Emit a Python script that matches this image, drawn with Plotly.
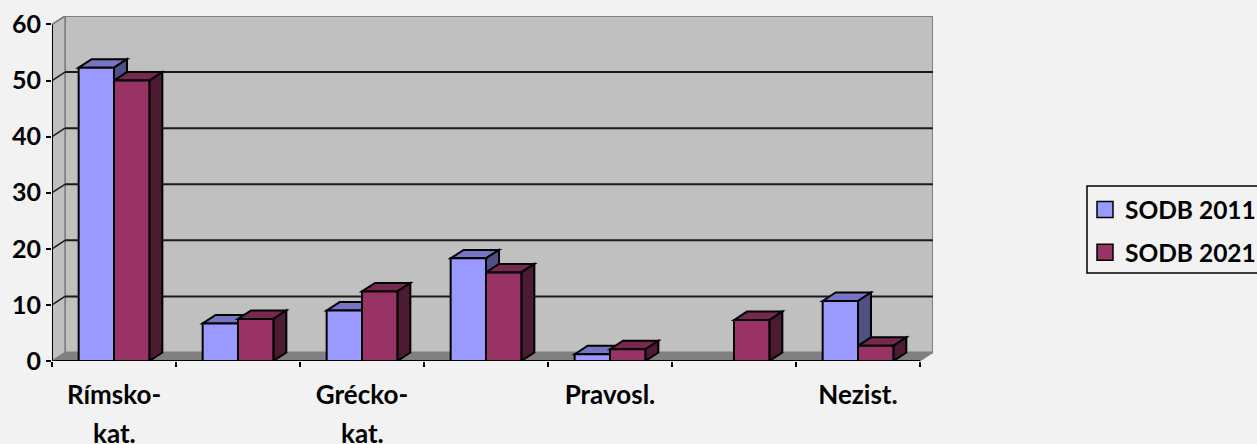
import plotly.graph_objects as go

categories = ["Rímsko-", "", "Grécko-", "", "Pravosl.", "", "Nezist."]
second_line = ["kat.", "", "kat.", "", "", "", ""]
sodb_2011 = [52.3, 6.7, 9.0, 18.3, 1.2, None, 10.7]
sodb_2021 = [50.0, 7.5, 12.4, 15.8, 2.1, 7.3, 2.7]
y_ticks = [0, 10, 20, 30, 40, 50, 60]

FONT = "Lato, Carlito, sans-serif"
W, H = 1257, 444
L, R, T, B = 52, 933, 16, 361
N = len(categories)
PX_X = (920 - 52) / N
PX_Y = (361 - 24) / 60
DX = 13 / PX_X
DY = 8.5 / PX_Y
GAP = 0.43
BW = (1 - GAP) / 2
XMAX = N + DX
YMAX = 60 + DY

INK = "#000000"
BLUE, BLUE_TOP, BLUE_SIDE = "#9999FF", "#7575C4", "#505084"
RED, RED_TOP, RED_SIDE = "#993366", "#77284F", "#4D1A33"


def poly(points):
    return "M" + " L".join(f"{x},{y}" for x, y in points) + " Z"


def shape(points, fill, color, width):
    return dict(type="path", path=poly(points), xref="x", yref="y", layer="below",
                fillcolor=fill, line=dict(color=color, width=width))


def seg(x0, y0, x1, y1, color, width):
    return dict(type="line", x0=x0, y0=y0, x1=x1, y1=y1, xref="x", yref="y", layer="below",
                line=dict(color=color, width=width))


shapes = [
    shape([(DX, DY), (XMAX, DY), (XMAX, YMAX), (DX, YMAX)], "#C0C0C0", "#808080", 2),
    shape([(0, 0), (DX, DY), (DX, YMAX), (0, 60)], "#C0C0C0", "#808080", 1.5),
    shape([(0, 0), (DX, DY), (XMAX, DY), (N, 0)], "#808080", "#808080", 1),
]
for v in y_ticks[1:-1]:
    shapes.append(seg(DX, v + DY, XMAX, v + DY, "#1A1A1A", 2))
    shapes.append(seg(0, v, DX, v + DY, "#1A1A1A", 1.5))
shapes.append(seg(0, 60, DX, YMAX, "#808080", 1.5))
shapes.append(seg(0, 0, 0, 60, INK, 2))
shapes.append(seg(0, 0, N, 0, INK, 2))

for i in range(N):
    left = i + GAP / 2
    for j, (vals, top, side) in enumerate(
        [(sodb_2011, BLUE_TOP, BLUE_SIDE), (sodb_2021, RED_TOP, RED_SIDE)]
    ):
        v = vals[i]
        if v is None:
            continue
        x0 = left + j * BW
        x1 = x0 + BW
        shapes.append(shape([(x0, v), (x0 + DX, v + DY), (x1 + DX, v + DY), (x1, v)], top, INK, 2))
        shapes.append(shape([(x1, 0), (x1 + DX, DY), (x1 + DX, v + DY), (x1, v)], side, INK, 2))

# legend frame: open on the right, it runs off the page edge
px_to_paper_x = lambda px: (px - L) / (R - L)
px_to_paper_y = lambda px: (B - px) / (B - T)
shapes.append(dict(type="rect", xref="paper", yref="paper",
                   x0=px_to_paper_x(1087), x1=px_to_paper_x(1265),
                   y0=px_to_paper_y(273), y1=px_to_paper_y(186),
                   line=dict(color=INK, width=1.5), fillcolor="rgba(0,0,0,0)", layer="above"))

centers = [i + 0.5 for i in range(N)]
fig = go.Figure()
fig.add_bar(x=centers, y=sodb_2011, marker=dict(color=BLUE, line=dict(color=INK, width=2)),
            showlegend=False, name="SODB 2011")
fig.add_bar(x=centers, y=sodb_2021, marker=dict(color=RED, line=dict(color=INK, width=2)),
            showlegend=False, name="SODB 2021")
for name, col in [("SODB 2011", BLUE), ("SODB 2021", RED)]:
    fig.add_scatter(x=[None], y=[None], mode="markers", name=name, legendgroup=name,
                    marker=dict(symbol="square", size=16, color=col, line=dict(color=INK, width=1.5)))

annotations = [
    dict(x=c, y=0, xref="x", yref="y", yshift=-72, text=t, showarrow=False,
         font=dict(family=FONT, size=26, color=INK, weight=700), yanchor="middle", xanchor="center")
    for c, t in zip(centers, second_line) if t
]

fig.update_layout(
    width=W, height=H, autosize=False,
    margin=dict(l=L, r=W - R, t=T, b=H - B, pad=0, autoexpand=False),
    paper_bgcolor="#F2F2F2", plot_bgcolor="rgba(0,0,0,0)",
    barmode="group", bargap=GAP, bargroupgap=0,
    shapes=shapes, annotations=annotations,
    font=dict(family=FONT, color=INK),
    legend=dict(x=px_to_paper_x(1085), xanchor="left", y=px_to_paper_y(187), yanchor="top",
                bgcolor="rgba(0,0,0,0)", borderwidth=0,
                font=dict(family=FONT, size=24.5, color=INK, weight=700),
                traceorder="grouped", tracegroupgap=8, itemsizing="trace", entrywidth=131),
    xaxis=dict(range=[0, XMAX], showgrid=False, zeroline=False, showline=False,
               tickmode="array", tickvals=centers, ticktext=categories, ticklen=0,
               ticklabelstandoff=16, tickfont=dict(family=FONT, size=26, weight=700, color=INK),
               minor=dict(tickmode="array", tickvals=list(range(N + 1)), ticks="outside",
                          ticklen=5, tickwidth=1.5, tickcolor=INK, showgrid=False)),
    yaxis=dict(range=[0, YMAX], showgrid=False, zeroline=False, showline=False,
               tickmode="array", tickvals=y_ticks, ticks="outside", ticklen=5, tickwidth=1.5,
               tickcolor=INK, ticklabelstandoff=0,
               tickfont=dict(family=FONT, size=25, weight=700, color=INK)),
)

fig.write_html("out.html", post_script="document.body.style.margin='0';",
               config={"displayModeBar": False})
